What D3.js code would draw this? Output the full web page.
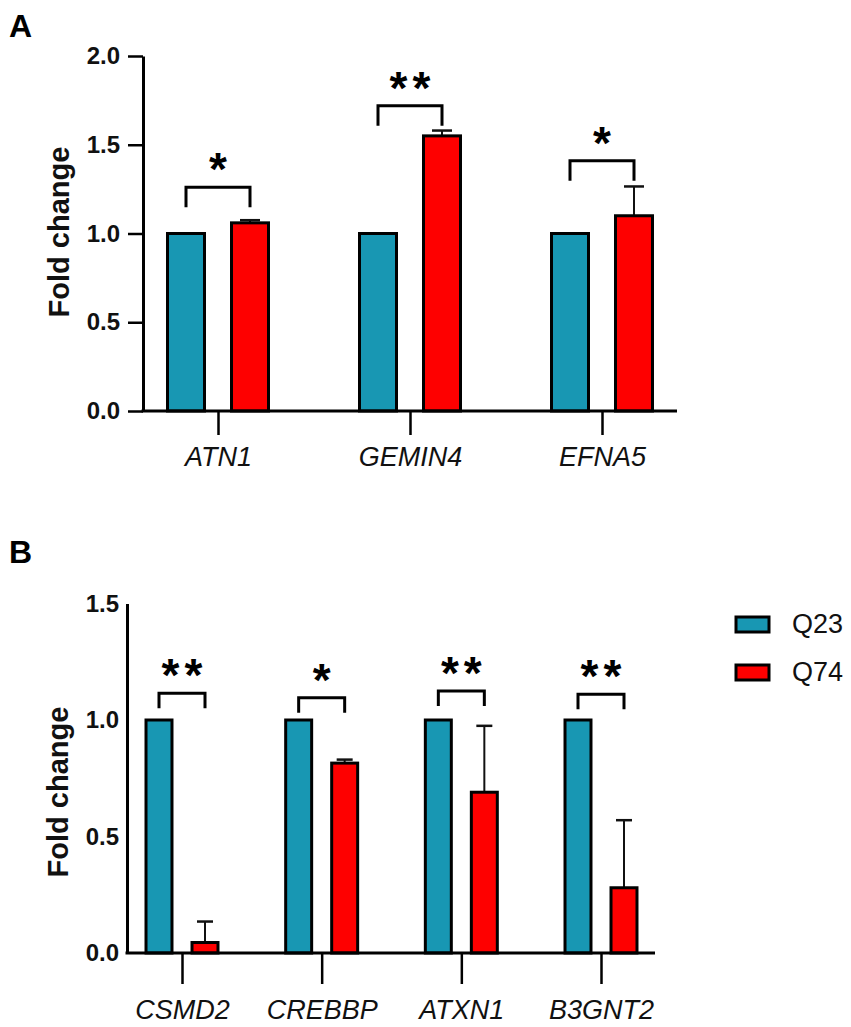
<!DOCTYPE html>
<html>
<head>
<meta charset="utf-8">
<script src="https://cdnjs.cloudflare.com/ajax/libs/d3/7.8.5/d3.min.js"></script>
<style>
  body { margin: 0; background: #fff; }
  svg { display: block; font-family: "Liberation Sans", Arial, sans-serif; }
</style>
</head>
<body>
<div id="chart-container"></div>
<script>
// Panel A data
const genesA = ["ATN1", "GEMIN4", "EFNA5"];
const q23A = [1.0, 1.0, 1.0];
const q74A = [1.06, 1.55, 1.10];
const errA = [0.015, 0.03, 0.165];
const sigA = ["*", "**", "*"];
const bracketA = [1.26, 1.72, 1.41];
const ticksA = [0, 0.5, 1.0, 1.5, 2.0];

// Panel B data
const genesB = ["CSMD2", "CREBBP", "ATXN1", "B3GNT2"];
const q23B = [1.0, 1.0, 1.0, 1.0];
const q74B = [0.045, 0.815, 0.69, 0.28];
const errB = [0.09, 0.015, 0.285, 0.29];
const sigB = ["**", "*", "**", "**"];
const bracketB = [1.115, 1.095, 1.125, 1.11];
const ticksB = [0, 0.5, 1.0, 1.5];

const seriesNames = ["Q23", "Q74"];
const colors = ["#1897b3", "#fe0000"];
const colorScale = d3.scaleOrdinal().domain(seriesNames).range(colors);

const svg = d3.select("#chart-container")
  .append("svg")
    .attr("width", 851)
    .attr("height", 1027);

svg.append("rect")
  .attr("width", 851)
  .attr("height", 1027)
  .attr("fill", "#fff");

function drawPanel(opt) {
  const g = svg.append("g");

  const y = d3.scaleLinear()
    .domain([0, d3.max(opt.ticks)])
    .range([opt.y0, opt.y1]);

  const x = d3.scalePoint()
    .domain(opt.genes)
    .range([opt.c0, opt.c1]);

  // inner scale for the two series of a gene
  const xs = d3.scaleBand()
    .domain(seriesNames)
    .range([-opt.step, opt.step])
    .paddingInner(opt.pad)
    .paddingOuter(opt.pad / 2);

  const rows = opt.genes.map((gene, i) => ({
    gene: gene,
    vals: [
      { s: "Q23", v: opt.q23[i], e: 0 },
      { s: "Q74", v: opt.q74[i], e: opt.err[i] }
    ],
    sig: opt.sig[i],
    br: opt.bracket[i]
  }));

  // Bars
  const grp = g.selectAll(".gene")
    .data(rows)
    .join("g")
      .attr("transform", d => `translate(${x(d.gene)},0)`);

  // Error bars (drawn first so bar outline covers the base)
  grp.selectAll(".err")
    .data(d => d.vals.filter(v => v.e > 0))
    .join("g")
    .each(function (d) {
      const cx = xs(d.s) + xs.bandwidth() / 2;
      const e = d3.select(this);
      e.append("line")
        .attr("x1", cx).attr("x2", cx)
        .attr("y1", y(d.v)).attr("y2", y(d.v + d.e))
        .attr("stroke", "#111").attr("stroke-width", 2);
      e.append("line")
        .attr("x1", cx - opt.cap / 2).attr("x2", cx + opt.cap / 2)
        .attr("y1", y(d.v + d.e)).attr("y2", y(d.v + d.e))
        .attr("stroke", "#111").attr("stroke-width", 2.5);
    });

  grp.selectAll("rect")
    .data(d => d.vals)
    .join("rect")
      .attr("x", d => xs(d.s) + 1.5)
      .attr("width", xs.bandwidth() - 3)
      .attr("y", d => y(d.v))
      .attr("height", d => y(0) - y(d.v))
      .attr("fill", d => colorScale(d.s))
      .attr("stroke", "#000")
      .attr("stroke-width", 3);

  // Significance brackets
  grp.each(function (d) {
    const b = d3.select(this);
    const xa = xs("Q23") + xs.bandwidth() / 2;
    const xb = xs("Q74") + xs.bandwidth() / 2;
    const top = y(d.br);
    b.append("path")
      .attr("d", `M${xa},${top + opt.leg}V${top}H${xb}V${top + opt.leg}`)
      .attr("fill", "none")
      .attr("stroke", "#000")
      .attr("stroke-width", 3);
    b.append("text")
      .attr("x", (xa + xb) / 2 + 2.5)
      .attr("y", top - 2)
      .attr("text-anchor", "middle")
      .style("font-size", "46px")
      .style("font-weight", "bold")
      .style("letter-spacing", "5px")
      .attr("fill", "#000")
      .text(d.sig);
  });

  // Add the y-axis
  const yAxis = g.append("g")
    .attr("transform", `translate(${opt.ax},0)`)
    .call(d3.axisLeft(y)
      .tickValues(opt.ticks)
      .tickFormat(d3.format(".1f"))
      .tickSize(opt.ytick)
      .tickSizeOuter(0)
      .tickPadding(8));
  yAxis.select(".domain").attr("stroke", "#000").attr("stroke-width", 3);
  yAxis.selectAll(".tick line").attr("stroke", "#000").attr("stroke-width", 2.5);
  yAxis.selectAll(".tick text")
    .attr("fill", "#111")
    .style("font-size", "24px")
    .style("font-weight", "bold")
    .style("font-family", "'Liberation Sans', Arial, sans-serif");

  // Add the x-axis
  const xAxis = g.append("g")
    .attr("transform", `translate(0,${y(0)})`)
    .call(d3.axisBottom(x)
      .tickSize(opt.xtick)
      .tickPadding(opt.xpad));
  xAxis.select(".domain").remove();
  xAxis.selectAll(".tick line").attr("stroke", "#000").attr("stroke-width", 2.5);
  xAxis.selectAll(".tick text")
    .attr("fill", "#111")
    .style("font-size", "27px")
    .style("font-style", "italic")
    .style("font-family", "'Liberation Sans', Arial, sans-serif");

  g.append("line")
    .attr("x1", opt.ax - 1.5).attr("x2", opt.xend)
    .attr("y1", y(0)).attr("y2", y(0))
    .attr("stroke", "#000")
    .attr("stroke-width", 3);

  // Add Y-axis label
  g.append("text")
    .attr("transform", `translate(${opt.labX},${opt.labY}) rotate(-90)`)
    .attr("text-anchor", "middle")
    .style("font-size", "29px")
    .style("font-weight", "bold")
    .attr("fill", "#111")
    .text("Fold change");

  // Panel letter
  svg.append("text")
    .attr("x", 9)
    .attr("y", opt.letterY)
    .style("font-size", "32px")
    .style("font-weight", "bold")
    .attr("fill", "#000")
    .text(opt.letter);
}

drawPanel({
  letter: "A", letterY: 37,
  genes: genesA, q23: q23A, q74: q74A, err: errA, sig: sigA, bracket: bracketA, ticks: ticksA,
  y0: 411, y1: 56, ax: 143, xend: 677, c0: 218, c1: 602,
  step: 64, pad: 0.375, cap: 20, leg: 20,
  ytick: 15, xtick: 24, xpad: 12,
  labX: 69, labY: 232
});

drawPanel({
  letter: "B", letterY: 563,
  genes: genesB, q23: q23B, q74: q74B, err: errB, sig: sigB, bracket: bracketB, ticks: ticksB,
  y0: 953, y1: 603.5, ax: 127, xend: 655, c0: 182, c1: 601,
  step: 46, pad: 0.37, cap: 16, leg: 15,
  ytick: 0, xtick: 31, xpad: 16,
  labX: 68, labY: 792
});

// Legend
const legend = svg.append("g")
  .selectAll("g")
  .data(seriesNames)
  .join("g")
    .attr("transform", (d, i) => `translate(736,${617 + i * 48})`);

legend.append("rect")
  .attr("width", 33)
  .attr("height", 15)
  .attr("fill", d => colorScale(d))
  .attr("stroke", "#000")
  .attr("stroke-width", 3);

legend.append("text")
  .attr("x", 56)
  .attr("y", 16)
  .style("font-size", "27px")
  .attr("fill", "#111")
  .text(d => d);
</script>
</body>
</html>
